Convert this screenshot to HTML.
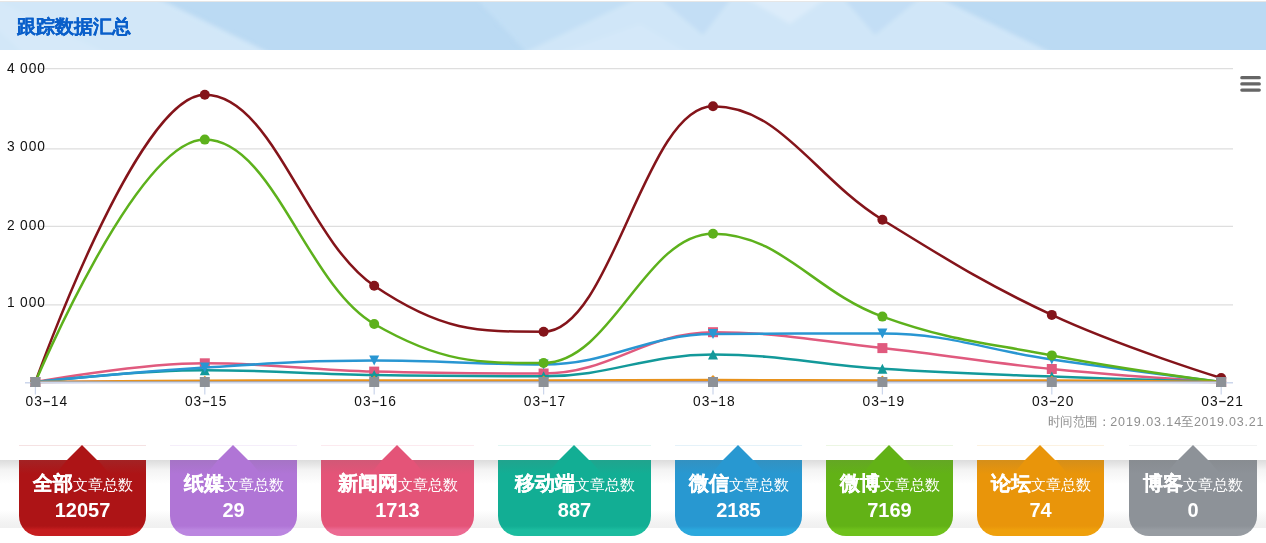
<!DOCTYPE html>
<html><head><meta charset="utf-8"><style>
html,body{margin:0;padding:0;}
body{width:1266px;height:543px;position:relative;overflow:hidden;background:#fff;font-family:"Liberation Sans",sans-serif;}
.topline{position:absolute;left:0;top:1px;width:1266px;height:1px;background:#e6e6e6;}
.hdr{position:absolute;left:0;top:2px;width:1266px;height:48px;background:#bbdaf3;overflow:hidden;}
.hdr svg{position:absolute;left:0;top:0;}
.ttl{position:absolute;left:17px;top:13px;font-size:18.5px;font-weight:bold;color:#0a5fca;-webkit-text-stroke:0.25px #0a5fca;line-height:24px;white-space:nowrap;}
svg.chart{position:absolute;left:0;top:0;}
.yl,.xl{font-family:"Liberation Sans",sans-serif;font-size:13.75px;fill:#111;}
.cr{font-family:"Liberation Sans",sans-serif;font-size:12.5px;fill:#8f8f8f;}
.band{position:absolute;left:0;top:460px;width:1266px;height:68px;background:linear-gradient(#dcdcdc 0,#f4f4f4 10px,#fff 24px,#fff 50px,#f3f3f3 62px,#f0f0f0 68px);}
.card{position:absolute;top:445px;height:91px;}
.card .tl{position:absolute;left:0;top:0;width:100%;height:1px;opacity:0.12;}
.card .arrow{position:absolute;top:0;width:0;height:0;border-left:15.5px solid transparent;border-right:15.5px solid transparent;border-bottom:15px solid;}
.card .body{position:absolute;left:0;top:15px;width:100%;height:76px;border-radius:0 0 20px 20px;color:#fff;text-align:center;}
.card .shade{position:absolute;left:0;top:0;width:100%;height:14px;background:linear-gradient(rgba(110,110,110,0.16),rgba(110,110,110,0));}
.card .l1{position:absolute;left:0;right:0;top:10px;line-height:26px;white-space:nowrap;}
.card .l1 b{font-size:20px;font-weight:bold;-webkit-text-stroke:0.3px #fff;}
.card .l1 span{font-size:15px;}
.card .l2{position:absolute;left:0;right:0;top:37.9px;font-size:20px;font-weight:bold;line-height:24px;}
</style></head><body>
<div class="topline"></div>
<div class="hdr">
<svg width="1266" height="48">
<defs><filter id="bl" x="-5%" y="-50%" width="110%" height="200%"><feGaussianBlur stdDeviation="2"/></filter></defs>
<g filter="url(#bl)">
<polygon points="-20,-10 145,-10 284,58 -20,58" fill="#d2e7f8"/>
<polygon points="-20,10 30,58 120,58 -20,-10" fill="#d9ebfa" opacity="0.6"/>
<polygon points="470,-10 700,-10 534,58" fill="#c3dff5"/>
<polygon points="509,58 650,-10 927,-10 1066,58" fill="#d0e6f8"/>
<polygon points="652,-10 736,-10 703,33" fill="#c3def5"/>
<polygon points="838,-10 927,-10 875,33" fill="#c3def5"/>
<polygon points="735,-10 835,-10 790,22" fill="#dcecfa"/>
<polygon points="540,58 640,22 700,58" fill="#d8eafa" opacity="0.5"/>
</g>
</svg>
<div class="ttl">跟踪数据汇总</div>
</div>
<svg class="chart" width="1266" height="460">
<path d="M 25 68.7 L 1233 68.7" stroke="#dedede" stroke-width="1.25"/>
<path d="M 25 148.75 L 1233 148.75" stroke="#dedede" stroke-width="1.25"/>
<path d="M 25 226.35 L 1233 226.35" stroke="#dedede" stroke-width="1.25"/>
<path d="M 25 304.8 L 1233 304.8" stroke="#dedede" stroke-width="1.25"/>
<path d="M 35.40 382.00 C 35.40 382.00 137.04 94.80 204.80 94.80 C 272.56 94.80 306.44 239.90 374.20 285.80 C 441.96 331.70 475.84 331.70 543.60 331.70 C 611.36 331.70 645.24 106.30 713.00 106.30 C 780.76 106.30 814.64 177.98 882.40 219.70 C 950.16 261.42 984.04 283.24 1051.80 314.90 C 1119.56 346.56 1221.20 378.00 1221.20 378.00" fill="none" stroke="#84141a" stroke-width="2.5" stroke-linejoin="round" stroke-linecap="round"/>
<circle cx="35.40" cy="382.00" r="5" fill="#84141a"/>
<circle cx="204.80" cy="94.80" r="5" fill="#84141a"/>
<circle cx="374.20" cy="285.80" r="5" fill="#84141a"/>
<circle cx="543.60" cy="331.70" r="5" fill="#84141a"/>
<circle cx="713.00" cy="106.30" r="5" fill="#84141a"/>
<circle cx="882.40" cy="219.70" r="5" fill="#84141a"/>
<circle cx="1051.80" cy="314.90" r="5" fill="#84141a"/>
<circle cx="1221.20" cy="378.00" r="5" fill="#84141a"/>
<path d="M 35.40 382.00 C 35.40 382.00 137.04 381.50 204.80 381.50 C 272.56 381.50 306.44 381.50 374.20 381.50 C 441.96 381.50 475.84 381.50 543.60 381.50 C 611.36 381.50 645.24 381.50 713.00 381.50 C 780.76 381.50 814.64 381.50 882.40 381.50 C 950.16 381.50 984.04 381.50 1051.80 381.50 C 1119.56 381.50 1221.20 382.00 1221.20 382.00" fill="none" stroke="#a87cd3" stroke-width="2.5" stroke-linejoin="round" stroke-linecap="round"/>
<path d="M 35.40 377.00 L 40.40 382.00 L 35.40 387.00 L 30.40 382.00 Z" fill="#a87cd3"/>
<path d="M 204.80 376.50 L 209.80 381.50 L 204.80 386.50 L 199.80 381.50 Z" fill="#a87cd3"/>
<path d="M 374.20 376.50 L 379.20 381.50 L 374.20 386.50 L 369.20 381.50 Z" fill="#a87cd3"/>
<path d="M 543.60 376.50 L 548.60 381.50 L 543.60 386.50 L 538.60 381.50 Z" fill="#a87cd3"/>
<path d="M 713.00 376.50 L 718.00 381.50 L 713.00 386.50 L 708.00 381.50 Z" fill="#a87cd3"/>
<path d="M 882.40 376.50 L 887.40 381.50 L 882.40 386.50 L 877.40 381.50 Z" fill="#a87cd3"/>
<path d="M 1051.80 376.50 L 1056.80 381.50 L 1051.80 386.50 L 1046.80 381.50 Z" fill="#a87cd3"/>
<path d="M 1221.20 377.00 L 1226.20 382.00 L 1221.20 387.00 L 1216.20 382.00 Z" fill="#a87cd3"/>
<path d="M 35.40 382.00 C 35.40 382.00 137.04 363.30 204.80 363.30 C 272.56 363.30 306.44 369.70 374.20 371.60 C 441.96 373.50 475.84 373.50 543.60 373.50 C 611.36 373.50 645.24 332.20 713.00 332.20 C 780.76 332.20 814.64 340.74 882.40 348.10 C 950.16 355.46 984.04 362.22 1051.80 369.00 C 1119.56 375.78 1221.20 382.00 1221.20 382.00" fill="none" stroke="#e05a7e" stroke-width="2.5" stroke-linejoin="round" stroke-linecap="round"/>
<rect x="30.40" y="377.00" width="10" height="10" fill="#e05a7e"/>
<rect x="199.80" y="358.30" width="10" height="10" fill="#e05a7e"/>
<rect x="369.20" y="366.60" width="10" height="10" fill="#e05a7e"/>
<rect x="538.60" y="368.50" width="10" height="10" fill="#e05a7e"/>
<rect x="708.00" y="327.20" width="10" height="10" fill="#e05a7e"/>
<rect x="877.40" y="343.10" width="10" height="10" fill="#e05a7e"/>
<rect x="1046.80" y="364.00" width="10" height="10" fill="#e05a7e"/>
<rect x="1216.20" y="377.00" width="10" height="10" fill="#e05a7e"/>
<path d="M 35.40 382.00 C 35.40 382.00 137.04 370.30 204.80 370.30 C 272.56 370.30 306.44 373.80 374.20 375.00 C 441.96 376.20 475.84 376.30 543.60 376.30 C 611.36 376.30 645.24 354.50 713.00 354.50 C 780.76 354.50 814.64 364.40 882.40 368.80 C 950.16 373.20 984.04 373.86 1051.80 376.50 C 1119.56 379.14 1221.20 382.00 1221.20 382.00" fill="none" stroke="#13999a" stroke-width="2.5" stroke-linejoin="round" stroke-linecap="round"/>
<path d="M 35.40 377.00 L 40.40 387.00 L 30.40 387.00 Z" fill="#13999a"/>
<path d="M 204.80 365.30 L 209.80 375.30 L 199.80 375.30 Z" fill="#13999a"/>
<path d="M 374.20 370.00 L 379.20 380.00 L 369.20 380.00 Z" fill="#13999a"/>
<path d="M 543.60 371.30 L 548.60 381.30 L 538.60 381.30 Z" fill="#13999a"/>
<path d="M 713.00 349.50 L 718.00 359.50 L 708.00 359.50 Z" fill="#13999a"/>
<path d="M 882.40 363.80 L 887.40 373.80 L 877.40 373.80 Z" fill="#13999a"/>
<path d="M 1051.80 371.50 L 1056.80 381.50 L 1046.80 381.50 Z" fill="#13999a"/>
<path d="M 1221.20 377.00 L 1226.20 387.00 L 1216.20 387.00 Z" fill="#13999a"/>
<path d="M 35.40 382.00 C 35.40 382.00 137.04 371.88 204.80 367.60 C 272.56 363.32 306.44 360.60 374.20 360.60 C 441.96 360.60 475.84 364.50 543.60 364.50 C 611.36 364.50 645.24 334.50 713.00 334.00 C 780.76 333.50 814.64 333.50 882.40 333.50 C 950.16 333.50 984.04 349.80 1051.80 359.50 C 1119.56 369.20 1221.20 382.00 1221.20 382.00" fill="none" stroke="#2996d2" stroke-width="2.5" stroke-linejoin="round" stroke-linecap="round"/>
<path d="M 30.40 377.00 L 40.40 377.00 L 35.40 387.00 Z" fill="#2996d2"/>
<path d="M 199.80 362.60 L 209.80 362.60 L 204.80 372.60 Z" fill="#2996d2"/>
<path d="M 369.20 355.60 L 379.20 355.60 L 374.20 365.60 Z" fill="#2996d2"/>
<path d="M 538.60 359.50 L 548.60 359.50 L 543.60 369.50 Z" fill="#2996d2"/>
<path d="M 708.00 329.00 L 718.00 329.00 L 713.00 339.00 Z" fill="#2996d2"/>
<path d="M 877.40 328.50 L 887.40 328.50 L 882.40 338.50 Z" fill="#2996d2"/>
<path d="M 1046.80 354.50 L 1056.80 354.50 L 1051.80 364.50 Z" fill="#2996d2"/>
<path d="M 1216.20 377.00 L 1226.20 377.00 L 1221.20 387.00 Z" fill="#2996d2"/>
<path d="M 35.40 382.00 C 35.40 382.00 137.04 139.60 204.80 139.60 C 272.56 139.60 306.44 285.00 374.20 324.00 C 441.96 363.00 475.84 363.00 543.60 363.00 C 611.36 363.00 645.24 233.70 713.00 233.70 C 780.76 233.70 814.64 292.26 882.40 316.60 C 950.16 340.94 984.04 342.32 1051.80 355.40 C 1119.56 368.48 1221.20 382.00 1221.20 382.00" fill="none" stroke="#5db11c" stroke-width="2.5" stroke-linejoin="round" stroke-linecap="round"/>
<circle cx="35.40" cy="382.00" r="5" fill="#5db11c"/>
<circle cx="204.80" cy="139.60" r="5" fill="#5db11c"/>
<circle cx="374.20" cy="324.00" r="5" fill="#5db11c"/>
<circle cx="543.60" cy="363.00" r="5" fill="#5db11c"/>
<circle cx="713.00" cy="233.70" r="5" fill="#5db11c"/>
<circle cx="882.40" cy="316.60" r="5" fill="#5db11c"/>
<circle cx="1051.80" cy="355.40" r="5" fill="#5db11c"/>
<circle cx="1221.20" cy="382.00" r="5" fill="#5db11c"/>
<path d="M 35.40 382.00 C 35.40 382.00 137.04 381.12 204.80 380.80 C 272.56 380.48 306.44 380.40 374.20 380.40 C 441.96 380.40 475.84 380.60 543.60 380.60 C 611.36 380.60 645.24 380.00 713.00 380.00 C 780.76 380.00 814.64 380.60 882.40 380.60 C 950.16 380.60 984.04 380.40 1051.80 380.40 C 1119.56 380.40 1221.20 382.00 1221.20 382.00" fill="none" stroke="#e8921c" stroke-width="2.5" stroke-linejoin="round" stroke-linecap="round"/>
<path d="M 35.40 377.00 L 40.40 382.00 L 35.40 387.00 L 30.40 382.00 Z" fill="#e8921c"/>
<path d="M 204.80 375.80 L 209.80 380.80 L 204.80 385.80 L 199.80 380.80 Z" fill="#e8921c"/>
<path d="M 374.20 375.40 L 379.20 380.40 L 374.20 385.40 L 369.20 380.40 Z" fill="#e8921c"/>
<path d="M 543.60 375.60 L 548.60 380.60 L 543.60 385.60 L 538.60 380.60 Z" fill="#e8921c"/>
<path d="M 713.00 375.00 L 718.00 380.00 L 713.00 385.00 L 708.00 380.00 Z" fill="#e8921c"/>
<path d="M 882.40 375.60 L 887.40 380.60 L 882.40 385.60 L 877.40 380.60 Z" fill="#e8921c"/>
<path d="M 1051.80 375.40 L 1056.80 380.40 L 1051.80 385.40 L 1046.80 380.40 Z" fill="#e8921c"/>
<path d="M 1221.20 377.00 L 1226.20 382.00 L 1221.20 387.00 L 1216.20 382.00 Z" fill="#e8921c"/>
<path d="M 35.4 381.7 L 1221.2 381.7" stroke="#a3adbd" stroke-width="1"/>
<path d="M 25 382.8 L 1233 382.8" stroke="#ccd6eb" stroke-width="1.6"/>
<path d="M 35.40 383 L 35.40 394.5" stroke="#ccd6eb" stroke-width="1.25"/>
<path d="M 204.80 383 L 204.80 394.5" stroke="#ccd6eb" stroke-width="1.25"/>
<path d="M 374.20 383 L 374.20 394.5" stroke="#ccd6eb" stroke-width="1.25"/>
<path d="M 543.60 383 L 543.60 394.5" stroke="#ccd6eb" stroke-width="1.25"/>
<path d="M 713.00 383 L 713.00 394.5" stroke="#ccd6eb" stroke-width="1.25"/>
<path d="M 882.40 383 L 882.40 394.5" stroke="#ccd6eb" stroke-width="1.25"/>
<path d="M 1051.80 383 L 1051.80 394.5" stroke="#ccd6eb" stroke-width="1.25"/>
<path d="M 1221.20 383 L 1221.20 394.5" stroke="#ccd6eb" stroke-width="1.25"/>
<rect x="30.40" y="377.00" width="10" height="10" fill="#8d9197"/>
<rect x="199.80" y="377.00" width="10" height="10" fill="#8d9197"/>
<rect x="369.20" y="377.00" width="10" height="10" fill="#8d9197"/>
<rect x="538.60" y="377.00" width="10" height="10" fill="#8d9197"/>
<rect x="708.00" y="377.00" width="10" height="10" fill="#8d9197"/>
<rect x="877.40" y="377.00" width="10" height="10" fill="#8d9197"/>
<rect x="1046.80" y="377.00" width="10" height="10" fill="#8d9197"/>
<rect x="1216.20" y="377.00" width="10" height="10" fill="#8d9197"/>
<text x="6.91 19.95 28.64 37.33" y="72.8" class="yl">4000</text>
<text x="6.91 19.95 28.64 37.33" y="150.8" class="yl">3000</text>
<text x="6.91 19.95 28.64 37.33" y="229.8" class="yl">2000</text>
<text x="6.91 19.95 28.64 37.33" y="306.85" class="yl">1000</text>
<rect x="43.48" y="400.9" width="6.30" height="1.3" fill="#222"/>
<text x="25.52 34.21 50.70 59.39" y="405.9" class="xl">0314</text>
<rect x="202.88" y="400.9" width="6.30" height="1.3" fill="#222"/>
<text x="184.92 193.61 210.10 218.79" y="405.9" class="xl">0315</text>
<rect x="372.28" y="400.9" width="6.30" height="1.3" fill="#222"/>
<text x="354.32 363.01 379.50 388.19" y="405.9" class="xl">0316</text>
<rect x="541.68" y="400.9" width="6.30" height="1.3" fill="#222"/>
<text x="523.72 532.41 548.90 557.59" y="405.9" class="xl">0317</text>
<rect x="711.08" y="400.9" width="6.30" height="1.3" fill="#222"/>
<text x="693.12 701.81 718.30 726.99" y="405.9" class="xl">0318</text>
<rect x="880.48" y="400.9" width="6.30" height="1.3" fill="#222"/>
<text x="862.52 871.21 887.70 896.39" y="405.9" class="xl">0319</text>
<rect x="1049.88" y="400.9" width="6.30" height="1.3" fill="#222"/>
<text x="1031.92 1040.61 1057.10 1065.79" y="405.9" class="xl">0320</text>
<rect x="1219.28" y="400.9" width="6.30" height="1.3" fill="#222"/>
<text x="1201.32 1210.01 1226.50 1235.19" y="405.9" class="xl">0321</text>
<path d="M 1241.8 77.7 L 1259.3 77.7 M 1241.8 83.9 L 1259.3 83.9 M 1241.8 90.1 L 1259.3 90.1" stroke="#666" stroke-width="3.2" stroke-linecap="round"/>
<text y="426.3" class="cr"><tspan x="1047.5" textLength="62.5" lengthAdjust="spacingAndGlyphs">时间范围：</tspan><tspan x="1110.2" textLength="71" lengthAdjust="spacing">2019.03.14</tspan><tspan x="1181.2" textLength="12.5" lengthAdjust="spacingAndGlyphs">至</tspan><tspan x="1193.9" textLength="69.5" lengthAdjust="spacing">2019.03.21</tspan></text>
</svg>
<div class="band"></div>
<div class="card" style="left:19px;width:127px">
<div class="tl" style="background:#ad1416"></div>
<div class="arrow" style="left:48.0px;border-bottom-color:#ad1416"></div>
<div class="body" style="background:linear-gradient(#ad1416 0,#ad1416 66px,#c61d1f 70px)">
<div class="shade" style="clip-path:polygon(0 0,48.0px 0,36.5px 14px,90.5px 14px,79.0px 0,127px 0,127px 14px,0 14px)"></div>
<div class="l1"><b>全部</b><span>文章总数</span></div>
<div class="l2">12057</div>
</div></div>
<div class="card" style="left:170px;width:127px">
<div class="tl" style="background:#b075d6"></div>
<div class="arrow" style="left:48.0px;border-bottom-color:#b075d6"></div>
<div class="body" style="background:linear-gradient(#b075d6 0,#b075d6 66px,#bb86e0 70px)">
<div class="shade" style="clip-path:polygon(0 0,48.0px 0,36.5px 14px,90.5px 14px,79.0px 0,127px 0,127px 14px,0 14px)"></div>
<div class="l1"><b>纸媒</b><span>文章总数</span></div>
<div class="l2">29</div>
</div></div>
<div class="card" style="left:321px;width:153px">
<div class="tl" style="background:#e45478"></div>
<div class="arrow" style="left:61.0px;border-bottom-color:#e45478"></div>
<div class="body" style="background:linear-gradient(#e45478 0,#e45478 66px,#ec6a92 70px)">
<div class="shade" style="clip-path:polygon(0 0,61.0px 0,49.5px 14px,103.5px 14px,92.0px 0,153px 0,153px 14px,0 14px)"></div>
<div class="l1"><b>新闻网</b><span>文章总数</span></div>
<div class="l2">1713</div>
</div></div>
<div class="card" style="left:498px;width:153px">
<div class="tl" style="background:#12ae94"></div>
<div class="arrow" style="left:61.0px;border-bottom-color:#12ae94"></div>
<div class="body" style="background:linear-gradient(#12ae94 0,#12ae94 66px,#1bbc9f 70px)">
<div class="shade" style="clip-path:polygon(0 0,61.0px 0,49.5px 14px,103.5px 14px,92.0px 0,153px 0,153px 14px,0 14px)"></div>
<div class="l1"><b>移动端</b><span>文章总数</span></div>
<div class="l2">887</div>
</div></div>
<div class="card" style="left:675px;width:127px">
<div class="tl" style="background:#2898d1"></div>
<div class="arrow" style="left:48.0px;border-bottom-color:#2898d1"></div>
<div class="body" style="background:linear-gradient(#2898d1 0,#2898d1 66px,#2ba8dd 70px)">
<div class="shade" style="clip-path:polygon(0 0,48.0px 0,36.5px 14px,90.5px 14px,79.0px 0,127px 0,127px 14px,0 14px)"></div>
<div class="l1"><b>微信</b><span>文章总数</span></div>
<div class="l2">2185</div>
</div></div>
<div class="card" style="left:826px;width:127px">
<div class="tl" style="background:#62b216"></div>
<div class="arrow" style="left:48.0px;border-bottom-color:#62b216"></div>
<div class="body" style="background:linear-gradient(#62b216 0,#62b216 66px,#6fc11c 70px)">
<div class="shade" style="clip-path:polygon(0 0,48.0px 0,36.5px 14px,90.5px 14px,79.0px 0,127px 0,127px 14px,0 14px)"></div>
<div class="l1"><b>微博</b><span>文章总数</span></div>
<div class="l2">7169</div>
</div></div>
<div class="card" style="left:977px;width:127px">
<div class="tl" style="background:#e9950a"></div>
<div class="arrow" style="left:48.0px;border-bottom-color:#e9950a"></div>
<div class="body" style="background:linear-gradient(#e9950a 0,#e9950a 66px,#efa00c 70px)">
<div class="shade" style="clip-path:polygon(0 0,48.0px 0,36.5px 14px,90.5px 14px,79.0px 0,127px 0,127px 14px,0 14px)"></div>
<div class="l1"><b>论坛</b><span>文章总数</span></div>
<div class="l2">74</div>
</div></div>
<div class="card" style="left:1129px;width:128px">
<div class="tl" style="background:#8d9298"></div>
<div class="arrow" style="left:48.5px;border-bottom-color:#8d9298"></div>
<div class="body" style="background:linear-gradient(#8d9298 0,#8d9298 66px,#979ca2 70px)">
<div class="shade" style="clip-path:polygon(0 0,48.5px 0,37.0px 14px,91.0px 14px,79.5px 0,128px 0,128px 14px,0 14px)"></div>
<div class="l1"><b>博客</b><span>文章总数</span></div>
<div class="l2">0</div>
</div></div>
</body></html>
